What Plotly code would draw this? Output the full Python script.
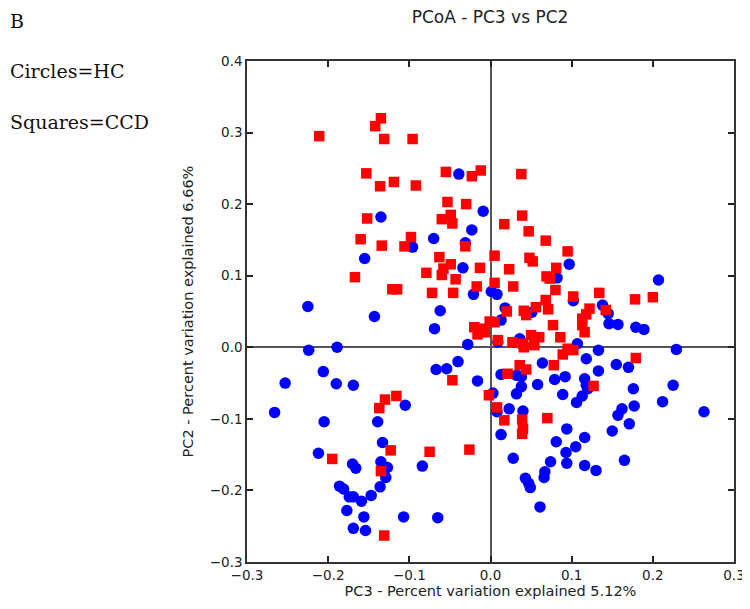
import plotly.graph_objects as go

# HC samples (circles): PC3 / PC2 coordinates
hc_pc3 = [
    -0.039, -0.009, -0.135, -0.023, -0.070, -0.031, -0.096, -0.155, -0.034, -0.021,
    0.001, 0.008, -0.062, 0.018, 0.013, -0.069, -0.225, -0.143, -0.028, -0.224,
    -0.189, -0.067, -0.054, -0.040, -0.206, -0.253, -0.190, -0.169, -0.016, -0.105,
    -0.266, -0.205, -0.139, 0.009, 0.036, 0.013, 0.032, 0.038, 0.038, 0.032,
    0.003, 0.008, 0.023, 0.040, 0.013, -0.084, 0.028, 0.043, 0.047, 0.049,
    0.061, 0.081, 0.094, 0.093, 0.105, 0.116, 0.074, 0.067, 0.066, 0.094,
    0.116, 0.130, 0.106, 0.150, 0.157, 0.162, 0.171, 0.177, 0.165, 0.212,
    0.263, 0.146, 0.157, 0.179, 0.189, 0.107, 0.133, 0.118, 0.155, 0.170,
    0.133, 0.064, 0.079, 0.092, 0.116, 0.118, 0.120, 0.113, 0.058, 0.089,
    0.176, 0.225, 0.229, 0.097, 0.207, 0.082, 0.102, 0.138, 0.051, 0.145,
    -0.133, -0.212, -0.170, -0.166, -0.135, -0.127, -0.129, -0.186, -0.181, -0.136,
    -0.174, -0.169, -0.159, -0.147, -0.177, -0.156, -0.107, -0.065, -0.169, -0.154,
]
hc_pc2 = [
    0.242, 0.190, 0.182, 0.164, 0.152, 0.146, 0.140, 0.124, 0.111, 0.074,
    0.078, 0.074, 0.051, 0.055, 0.038, 0.026, 0.057, 0.043, 0.004, -0.004,
    0.000, -0.031, -0.030, -0.020, -0.034, -0.050, -0.051, -0.053, -0.047, -0.081,
    -0.091, -0.104, -0.104, 0.007, 0.012, -0.038, -0.039, -0.041, -0.055, -0.065,
    -0.064, -0.090, -0.086, -0.089, -0.122, -0.166, -0.155, -0.183, -0.190, -0.196,
    -0.223, -0.132, -0.114, -0.147, -0.139, -0.126, -0.160, -0.174, -0.182, -0.162,
    -0.165, -0.172, -0.077, -0.117, -0.095, -0.086, -0.107, -0.082, -0.158, -0.076,
    -0.090, 0.033, 0.032, 0.028, 0.025, 0.005, -0.004, -0.016, -0.024, -0.028,
    -0.033, -0.022, -0.045, -0.041, -0.044, -0.053, -0.058, -0.068, -0.052, -0.066,
    -0.058, -0.053, -0.003, 0.116, 0.094, 0.097, 0.065, 0.059, 0.049, 0.047,
    -0.133, -0.148, -0.163, -0.169, -0.160, -0.168, -0.182, -0.194, -0.198, -0.195,
    -0.209, -0.209, -0.215, -0.207, -0.228, -0.237, -0.237, -0.238, -0.253, -0.256,
]

# CCD samples (squares): PC3 / PC2 coordinates
ccd_pc3 = [
    -0.211, -0.135, -0.142, -0.131, -0.096, -0.153, -0.136, -0.119, -0.092, -0.055,
    -0.023, -0.012, -0.152, -0.053, -0.030, -0.060, -0.049, -0.047, -0.160, -0.098,
    -0.134, -0.106, -0.031, 0.038, 0.039, 0.017, 0.047, 0.068, 0.095, -0.063,
    -0.049, -0.058, -0.079, -0.060, -0.043, -0.013, 0.005, 0.023, -0.072, -0.046,
    -0.017, 0.005, 0.028, 0.020, 0.041, 0.044, -0.020, -0.011, -0.016, -0.007,
    -0.001, 0.005, -0.167, -0.121, -0.115, -0.047, -0.137, -0.130, -0.116, -0.002,
    0.009, 0.027, 0.041, 0.036, 0.044, 0.021, 0.008, 0.017, 0.039, 0.040,
    0.039, -0.075, -0.026, 0.070, 0.077, 0.113, 0.116, 0.050, 0.060, 0.040,
    0.054, 0.086, 0.095, 0.102, 0.089, 0.078, 0.127, 0.179, 0.081, 0.048,
    0.052, 0.069, 0.073, 0.080, 0.102, 0.134, 0.178, 0.200, 0.068, 0.056,
    0.071, 0.122, 0.118, 0.113, 0.142, -0.195, -0.123, -0.135, -0.131,
]
ccd_pc2 = [
    0.295, 0.320, 0.309, 0.291, 0.291, 0.243, 0.225, 0.231, 0.226, 0.245,
    0.239, 0.247, 0.180, 0.203, 0.200, 0.179, 0.185, 0.173, 0.151, 0.154,
    0.142, 0.141, 0.141, 0.242, 0.184, 0.172, 0.162, 0.149, 0.134, 0.126,
    0.116, 0.110, 0.104, 0.101, 0.095, 0.111, 0.128, 0.109, 0.076, 0.076,
    0.085, 0.090, 0.085, 0.050, 0.051, 0.045, 0.028, 0.026, 0.018, 0.021,
    0.036, 0.035, 0.098, 0.081, 0.081, -0.046, -0.085, -0.073, -0.068, -0.067,
    0.010, 0.007, 0.000, -0.025, -0.031, -0.037, -0.084, -0.102, -0.101, -0.114,
    -0.121, -0.146, -0.143, -0.099, 0.031, 0.031, 0.021, 0.017, 0.014, 0.005,
    0.003, 0.014, -0.002, -0.004, -0.010, -0.025, -0.054, -0.015, 0.111, 0.125,
    0.120, 0.099, 0.096, 0.080, 0.071, 0.076, 0.067, 0.070, 0.066, 0.056,
    0.053, 0.054, 0.046, 0.040, 0.052, -0.156, -0.144, -0.173, -0.263,
]

x_ticks = [-0.3, -0.2, -0.1, 0.0, 0.1, 0.2, 0.3]
y_ticks = [-0.3, -0.2, -0.1, 0.0, 0.1, 0.2, 0.3, 0.4]

# the page body adds an 8px margin, so the figure is 8px smaller than the window
FIG_W, FIG_H = 742, 601
M_L, M_R, M_T, M_B = 239, 16, 53, 47
PLOT_W = FIG_W - M_L - M_R
PLOT_H = FIG_H - M_T - M_B


def axis_style(tickvals: list, rng: list) -> dict:
    """Matplotlib-like boxed axis with inward ticks on all sides"""
    return dict(
        range=rng,
        tickvals=tickvals,
        tickformat=".1f",
        ticks="inside",
        ticklen=6,
        tickwidth=1.5,
        tickcolor="#222222",
        mirror="ticks",
        showline=True,
        linecolor="#333333",
        linewidth=1.5,
        showgrid=False,
        zeroline=True,
        zerolinecolor="#555555",
        zerolinewidth=1.5,
        automargin=False,
        tickfont=dict(family="DejaVu Sans", size=13.5, color="#222222"),
    )


fig = go.Figure()
fig.add_trace(
    go.Scatter(
        x=hc_pc3,
        y=hc_pc2,
        mode="markers",
        name="HC",
        marker=dict(symbol="circle", size=11.5, color="#0000ff", line=dict(width=0)),
    )
)
fig.add_trace(
    go.Scatter(
        x=ccd_pc3,
        y=ccd_pc2,
        mode="markers",
        name="CCD",
        marker=dict(symbol="square", size=10.5, color="#ff0000", line=dict(width=0)),
    )
)

xaxis = axis_style(x_ticks, [-0.3, 0.3])
xaxis["title"] = dict(
    text="PC3 - Percent variation explained 5.12%",
    font=dict(family="DejaVu Sans", size=14.5, color="#222222"),
    standoff=4,
)
yaxis = axis_style(y_ticks, [-0.3, 0.4])
yaxis["title"] = dict(
    text="PC2 - Percent variation explained 6.66%",
    font=dict(family="DejaVu Sans", size=14.5, color="#222222"),
    standoff=13,
)

fig.update_layout(
    width=FIG_W,
    height=FIG_H,
    margin=dict(l=M_L, r=M_R, t=M_T, b=M_B, autoexpand=False),
    paper_bgcolor="white",
    plot_bgcolor="white",
    showlegend=False,
    xaxis=xaxis,
    yaxis=yaxis,
    title=dict(
        text="PCoA - PC3 vs PC2",
        x=482 / FIG_W,
        xanchor="center",
        y=1,
        yanchor="top",
        pad=dict(t=3),
        font=dict(family="DejaVu Sans", size=17, color="#222222"),
    ),
)

serif = dict(family="DejaVu Serif", size=19, color="#111111")
for label, ypos in [("B", 0), ("Circles=HC", 50), ("Squares=CCD", 101)]:
    fig.add_annotation(
        text=label,
        xref="paper",
        yref="paper",
        x=-M_L / PLOT_W,
        y=1 + (M_T - ypos) / PLOT_H,
        xanchor="left",
        yanchor="top",
        showarrow=False,
        font=serif,
    )

fig.write_html("out.html")
